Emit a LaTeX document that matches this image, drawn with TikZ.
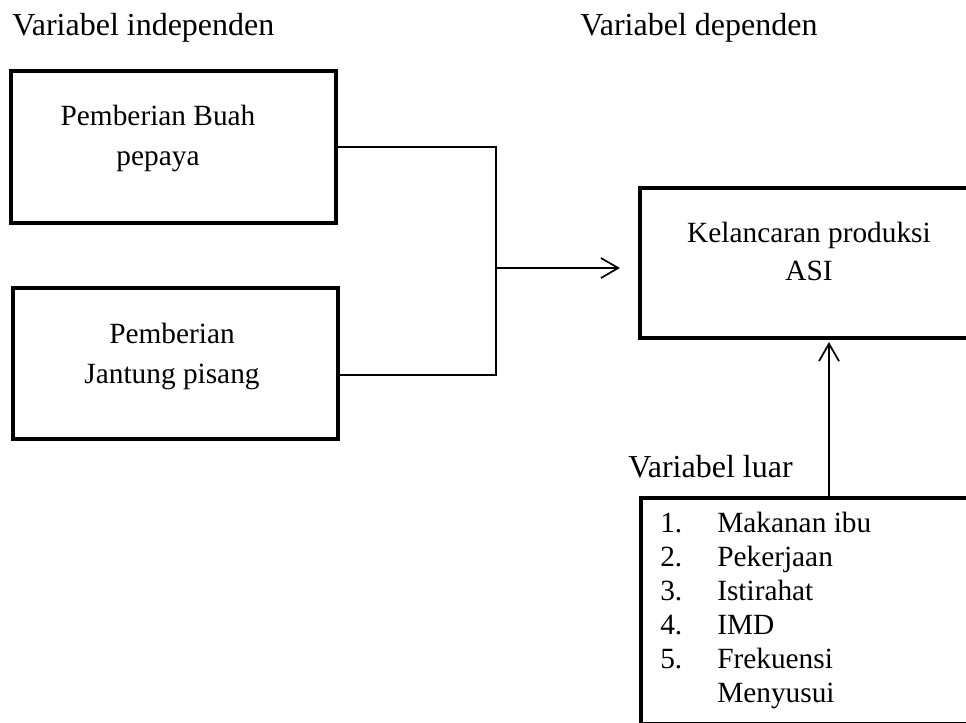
\documentclass[tikz,border=0pt]{standalone}
\usepackage{fontspec}
\setmainfont{Liberation Serif}
\usetikzlibrary{arrows.meta}
\begin{document}
\begin{tikzpicture}[x=0.75pt,y=-0.75pt,
  box/.style={draw, line width=3.5pt, inner sep=0pt, outer sep=0pt},
  conn/.style={line width=1.3pt},
  tip/.style={-{Straight Barb[length=13pt,width=15pt,line width=1.3pt]}},
  head/.style={inner sep=0pt, font=\fontsize{24}{30}\selectfont},
  txt/.style={inner sep=0pt, font=\fontsize{22}{30}\selectfont},
]
\clip (0,0) rectangle (966,722);
\fill[white] (0,0) rectangle (966,722);
% boxes
\node[box, minimum width=243.75pt, minimum height=114pt] (b1) at (173.5,147) {};
\node[box, minimum width=243.75pt, minimum height=113.25pt] (b2) at (175.5,363.5) {};
\node[box, minimum width=282pt, minimum height=112.5pt] (b3) at (828,263) {};
\node[box, minimum width=282pt, minimum height=169.5pt] (b4) at (829,611) {};
% headers
\node[head, anchor=base west] (h1) at (12,35) {Variabel independen};
\node[head, anchor=base west] (h2) at (580,35) {Variabel dependen};
\node[head, anchor=base west] (h3) at (628,477) {Variabel luar};
% box texts
\node[txt, anchor=base] (t1) at (158,125) {\fontsize{22}{30}\selectfont\begin{tabular}[t]{@{}c@{}}Pemberian Buah\\ pepaya\end{tabular}};
\node[txt, anchor=base] (t2) at (172,343) {\fontsize{22}{30}\selectfont\begin{tabular}[t]{@{}c@{}}Pemberian\\ Jantung pisang\end{tabular}};
\node[txt, anchor=base] (t3) at (809,242) {\fontsize{22}{28.5}\selectfont\begin{tabular}[t]{@{}c@{}}Kelancaran produksi\\ ASI\end{tabular}};
\node[txt, anchor=base west] (t4) at (660,532) {\fontsize{22}{25.5}\selectfont\begin{tabular}[t]{@{}p{42.75pt}@{}l@{}}
1. & Makanan ibu\\
2. & Pekerjaan\\
3. & Istirahat\\
4. & IMD\\
5. & Frekuensi\\
 & Menyusui
\end{tabular}};
% connectors
\coordinate (j) at (496,268);
\draw[conn] (b1.east) -| (j);
\draw[conn] ([yshift=-8.6pt]b2.east) -| (j);
\draw[conn, tip] (j) -- ([xshift=-15pt]b3.west |- j);
\draw[conn, tip] (b4.north) -- ([yshift=-3pt]b3.south -| b4.north);
\end{tikzpicture}
\end{document}
